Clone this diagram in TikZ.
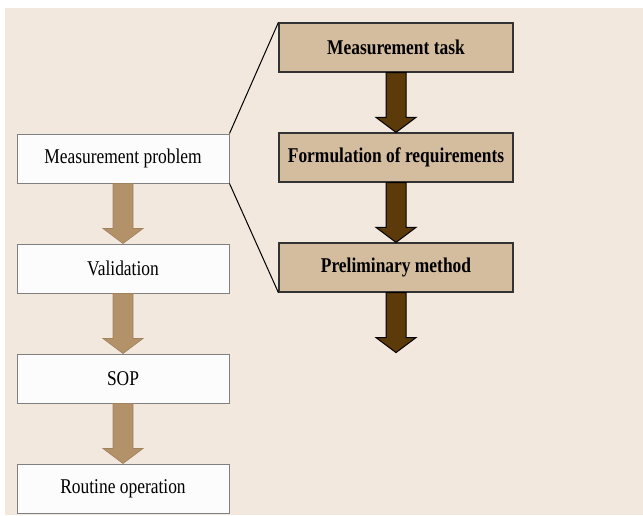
\documentclass[tikz,border=0pt]{standalone}
\usepackage{fontspec}
\setmainfont{Liberation Serif}[FakeStretch=0.83]
\usetikzlibrary{calc}

\definecolor{bgcream}{HTML}{F2E8DE}
\definecolor{stepfill}{HTML}{D4BC9F}
\definecolor{lightarrow}{HTML}{B39169}
\definecolor{darkarrow}{HTML}{5C3A0A}

% block arrow from one anchor to another
\newcommand{\fatarrow}[3]{%
  \draw[#1] ($(#2)+(-5pt,0)$) -- ($(#3)+(-5pt,7.5pt)$) -- ($(#3)+(-10pt,7.5pt)$) -- (#3)
    -- ($(#3)+(10pt,7.5pt)$) -- ($(#3)+(5pt,7.5pt)$) -- ($(#2)+(5pt,0)$) -- cycle;}

\begin{document}
\begin{tikzpicture}[node distance=55pt,
  stage/.style={rectangle, draw=gray, line width=0.5pt, fill=white!98!gray, minimum width=106pt, minimum height=24.5pt, inner sep=0pt, font=\fontsize{10.5}{12}\selectfont},
  substep/.style={rectangle, draw=black!80, line width=0.6pt, fill=stepfill, minimum width=117pt, minimum height=24.5pt, inner sep=0pt, font=\fontsize{10.5}{12}\selectfont\bfseries}]
\useasboundingbox (0,0) rectangle (321.5pt,-257.5pt);
\fill[bgcream] (2.5pt,-4pt) rectangle (321.5pt,-257.5pt);

\node (prob) [stage] at (61.5pt,-79.25pt) {Measurement problem};
\node (valid) [stage, below of=prob] {Validation};
\node (sop) [stage, below of=valid] {SOP};
\node (routine) [stage, below of=sop] {Routine operation};

\node (task) [substep] at (198pt,-23.75pt) {Measurement task};
\node (req) [substep, below of=task] {Formulation of requirements};
\node (prelim) [substep, below of=req] {Preliminary method};
\coordinate (prelimout) at ($(prelim.south)+(0,-30pt)$);

\draw [line width=0.5pt] (prob.north east) -- (task.north west);
\draw [line width=0.5pt] (prob.south east) -- (prelim.south west);

\fatarrow{fill=lightarrow, draw=lightarrow!90!black, line width=0.3pt}{prob.south}{valid.north}
\fatarrow{fill=lightarrow, draw=lightarrow!90!black, line width=0.3pt}{valid.south}{sop.north}
\fatarrow{fill=lightarrow, draw=lightarrow!90!black, line width=0.3pt}{sop.south}{routine.north}

\fatarrow{fill=darkarrow, draw=black, line width=0.5pt}{task.south}{req.north}
\fatarrow{fill=darkarrow, draw=black, line width=0.5pt}{req.south}{prelim.north}
\fatarrow{fill=darkarrow, draw=black, line width=0.5pt}{prelim.south}{prelimout}
\end{tikzpicture}
\end{document}
